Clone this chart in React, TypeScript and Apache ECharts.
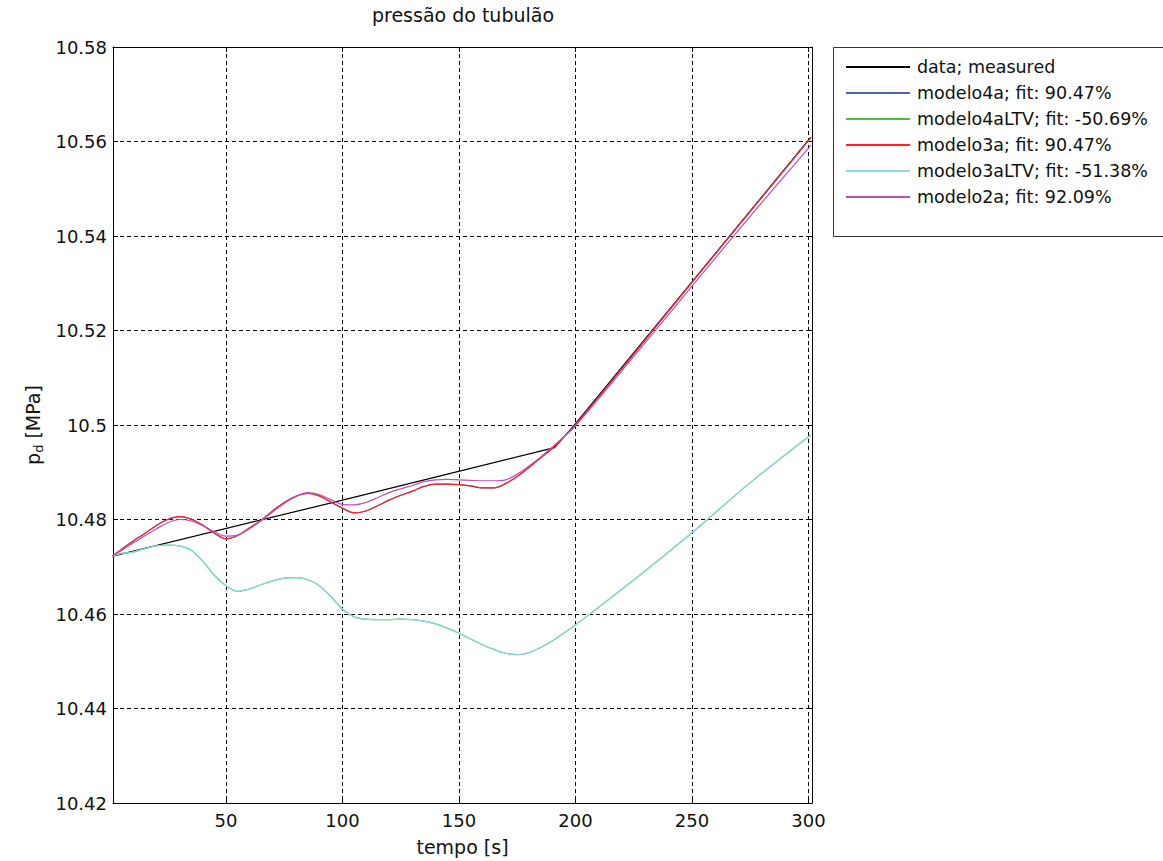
import React, { useEffect, useRef } from "react";
import * as echarts from "echarts";

const FONT = "'DejaVu Sans', 'Liberation Sans', sans-serif";

// measured data (time, value)
const dataT = [1, 100, 191, 200, 250, 301];
const dataMeasured = [10.4722, 10.4841, 10.4952, 10.5003, 10.5303, 10.5609];

// model simulation time grid
const modelT = [
  1, 5, 10, 15, 20, 25, 30, 35, 40, 45, 50, 55, 60, 65, 70, 75, 80, 85, 90, 95,
  100, 105, 110, 115, 120, 125, 130, 135, 140, 145, 150, 155, 160, 165, 170, 175,
  180, 185, 190, 195, 200, 225, 250, 275, 301,
];

const modelo3aV = [
  10.4722, 10.4736, 10.4754, 10.477, 10.4787, 10.48, 10.4806, 10.4801, 10.4788, 10.4771,
  10.4759, 10.4766, 10.4782, 10.4798, 10.4818, 10.4836, 10.4849, 10.4855, 10.485, 10.4837,
  10.4824, 10.4814, 10.4818, 10.4829, 10.4841, 10.4851, 10.486, 10.487, 10.4875, 10.4875,
  10.4874, 10.4871, 10.4867, 10.4867, 10.4876, 10.4891, 10.491, 10.493, 10.495, 10.4975,
  10.5, 10.515, 10.5302, 10.5452, 10.5608,
];

// modelo4a has the same fit as modelo3a (90.47%) and lies underneath it
const modelo4aV = [
  10.4722, 10.4736, 10.4754, 10.477, 10.4787, 10.48, 10.4806, 10.4801, 10.4788, 10.4771,
  10.4759, 10.4766, 10.4782, 10.4798, 10.4818, 10.4836, 10.4849, 10.4855, 10.485, 10.4837,
  10.4824, 10.4814, 10.4818, 10.4829, 10.4841, 10.4851, 10.486, 10.487, 10.4875, 10.4875,
  10.4874, 10.4871, 10.4867, 10.4867, 10.4876, 10.4891, 10.491, 10.493, 10.495, 10.4975,
  10.5, 10.515, 10.5302, 10.5452, 10.5608,
];

const modelo2aV = [
  10.4722, 10.4734, 10.475, 10.4765, 10.478, 10.4793, 10.48, 10.4797, 10.4787, 10.4774,
  10.4765, 10.4767, 10.478, 10.4797, 10.4816, 10.4834, 10.4849, 10.4857, 10.4853, 10.4842,
  10.4832, 10.4831, 10.4836, 10.4846, 10.4857, 10.4865, 10.4872, 10.488, 10.4884, 10.4885,
  10.4884, 10.4883, 10.4882, 10.4882, 10.4884, 10.4896, 10.4913, 10.4932, 10.4953, 10.4975,
  10.4998, 10.5145, 10.5294, 10.5442, 10.5592,
];

const modelo3aLTVV = [
  10.4722, 10.4728, 10.4731, 10.4738, 10.4744, 10.4746, 10.4744, 10.4735, 10.4712, 10.4682,
  10.466, 10.4648, 10.4653, 10.4662, 10.467, 10.4676, 10.4677, 10.4673, 10.466, 10.4637,
  10.461, 10.4594, 10.4589, 10.4588, 10.4588, 10.4589, 10.4588, 10.4585, 10.4579, 10.457,
  10.4559, 10.4547, 10.4535, 10.4525, 10.4517, 10.4514, 10.4518, 10.4529, 10.4543, 10.456,
  10.4577, 10.4672, 10.4772, 10.4878, 10.4979,
];

// modelo4aLTV nearly identical to modelo3aLTV
const modelo4aLTVV = [
  10.4722, 10.4728, 10.4731, 10.4738, 10.4744, 10.4746, 10.4744, 10.4735, 10.4712, 10.4682,
  10.466, 10.4648, 10.4653, 10.4662, 10.467, 10.4676, 10.4677, 10.4673, 10.466, 10.4637,
  10.461, 10.4594, 10.4589, 10.4588, 10.4588, 10.4589, 10.4588, 10.4585, 10.4579, 10.457,
  10.4559, 10.4547, 10.4535, 10.4525, 10.4517, 10.4514, 10.4518, 10.4529, 10.4543, 10.456,
  10.4577, 10.4672, 10.4772, 10.4878, 10.4979,
];

const xTicks = [50, 100, 150, 200, 250, 300];

const seriesNames = [
  "data; measured",
  "modelo4a; fit: 90.47%",
  "modelo4aLTV; fit: -50.69%",
  "modelo3a; fit: 90.47%",
  "modelo3aLTV; fit: -51.38%",
  "modelo2a; fit: 92.09%",
];
const seriesColors = ["#000000", "#4a62b8", "#4cc03c", "#ff2424", "#8ed8e4", "#c050b8"];

const pair = (ts: number[], vs: number[]) => ts.map((t, i) => [t, vs[i]]);

export default function App() {
  const ref = useRef<HTMLDivElement>(null);
  useEffect(() => {
    if (!ref.current) return;
    const chart = echarts.init(ref.current, undefined, { renderer: "svg" });
    const seriesData = [
      pair(dataT, dataMeasured),
      pair(modelT, modelo4aV),
      pair(modelT, modelo4aLTVV),
      pair(modelT, modelo3aV),
      pair(modelT, modelo3aLTVV),
      pair(modelT, modelo2aV),
    ];
    const axisColor = "#000";
    const grid = { left: 113, top: 47, width: 699, height: 757 };
    chart.setOption({
      animation: false,
      backgroundColor: "#fff",
      textStyle: { fontFamily: FONT },
      grid,
      graphic: [
        {
          type: "text",
          x: 463,
          y: 15,
          style: {
            text: "pressão do tubulão",
            fill: "#111",
            fontFamily: FONT,
            fontSize: 19,
            align: "center",
            verticalAlign: "middle",
          },
        },
        {
          type: "rect",
          z: 0,
          shape: { x: 833.5, y: 47.5, width: 400, height: 189 },
          style: { fill: "#fff", stroke: "#333", lineWidth: 1 },
        },
      ],
      legend: {
        orient: "vertical",
        left: 833,
        top: 47,
        z: 10,
        icon: "rect",
        itemWidth: 64,
        itemHeight: 2,
        itemGap: 8,
        padding: [11, 10, 10, 13],
        borderWidth: 0,
        backgroundColor: "transparent",
        textStyle: { fontFamily: FONT, fontSize: 17.5, color: "#111", padding: [0, 0, 0, 2] },
        data: seriesNames,
      },
      xAxis: [
        {
          type: "value",
          position: "bottom",
          min: 1.5,
          max: 301.5,
          axisLine: { show: true, onZero: false, lineStyle: { color: axisColor, width: 1 } },
          axisTick: { show: true, inside: true, length: 5, customValues: xTicks, lineStyle: { color: axisColor } },
          axisLabel: { customValues: xTicks, color: "#111", fontFamily: FONT, fontSize: 18, margin: 8 },
          splitLine: { show: true, lineStyle: { color: "#000", type: [4, 3], width: 1 } },
          name: "tempo [s]",
          nameLocation: "middle",
          nameGap: 34,
          nameTextStyle: { color: "#111", fontFamily: FONT, fontSize: 19 },
        },
        {
          type: "value",
          position: "top",
          min: 1.5,
          max: 301.5,
          axisLine: { show: true, onZero: false, lineStyle: { color: axisColor, width: 1 } },
          axisTick: { show: true, inside: true, length: 5, customValues: xTicks, lineStyle: { color: axisColor } },
          axisLabel: { show: false },
          splitLine: { show: false },
        },
      ],
      yAxis: [
        {
          type: "value",
          position: "left",
          min: 10.42,
          max: 10.58,
          interval: 0.02,
          axisLine: { show: true, onZero: false, lineStyle: { color: axisColor, width: 1 } },
          axisTick: { show: true, inside: true, length: 5, lineStyle: { color: axisColor } },
          axisLabel: {
            color: "#111",
            fontFamily: FONT,
            fontSize: 18,
            margin: 6,
            formatter: (v: number) => String(parseFloat(v.toFixed(2))),
          },
          splitLine: { show: true, lineStyle: { color: "#000", type: [4, 3], width: 1 } },
          name: "{a|p}{s|d}{a| [MPa]}",
          nameLocation: "middle",
          nameRotate: 90,
          nameGap: 68,
          nameTextStyle: {
            color: "#111",
            fontFamily: FONT,
            fontSize: 19,
            rich: {
              a: { fontFamily: FONT, fontSize: 19, color: "#111", lineHeight: 24 },
              s: { fontFamily: FONT, fontSize: 13, color: "#111", lineHeight: 14, verticalAlign: "bottom" },
            },
          },
        },
        {
          type: "value",
          position: "right",
          min: 10.42,
          max: 10.58,
          interval: 0.02,
          axisLine: { show: true, onZero: false, lineStyle: { color: axisColor, width: 1 } },
          axisTick: { show: true, inside: true, length: 5, lineStyle: { color: axisColor } },
          axisLabel: { show: false },
          splitLine: { show: false },
        },
      ],
      series: seriesNames.map((name, i) => ({
        name,
        type: "line",
        xAxisIndex: 0,
        yAxisIndex: 0,
        data: seriesData[i],
        symbol: "none",
        showSymbol: false,
        smooth: i === 0 ? false : 0.35,
        clip: true,
        color: seriesColors[i],
        lineStyle: { color: seriesColors[i], width: 1.2 },
      })),
    });
    return () => chart.dispose();
  }, []);
  return (
    <div
      ref={ref}
      style={{ position: "absolute", left: 0, top: 0, width: 1163, height: 861, background: "#fff" }}
    />
  );
}
